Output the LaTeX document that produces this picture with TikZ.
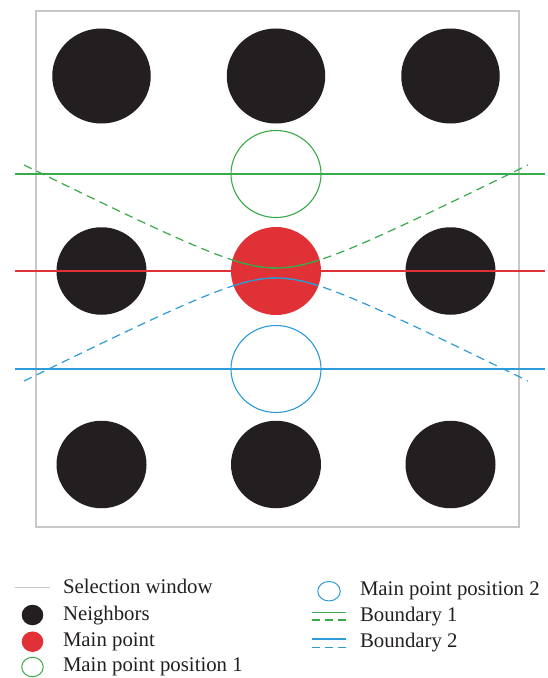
\documentclass[tikz,border=0pt]{standalone}
\usepackage{fontspec}
\setmainfont{Liberation Serif}
\usetikzlibrary{shapes.geometric}
\definecolor{nblack}{RGB}{35,31,32}
\definecolor{mred}{RGB}{224,50,54}
\definecolor{bgreen}{RGB}{57,170,73}
\definecolor{bblue}{RGB}{44,155,215}
\definecolor{wgray}{RGB}{200,200,200}
\begin{document}
\begin{tikzpicture}[x=1bp,y=-1bp,
  disc/.style={ellipse, draw=none, inner sep=0pt, outer sep=0pt},
  bigneighbor/.style={disc, fill=nblack, minimum width=98.5bp, minimum height=95bp},
  neighbor/.style={disc, fill=nblack, minimum width=90bp, minimum height=87.5bp},
  mainpt/.style={disc, fill=mred, minimum width=90bp, minimum height=88bp},
  posone/.style={disc, draw=bgreen, line width=1.1bp, minimum width=90bp, minimum height=87bp},
  postwo/.style={disc, draw=bblue, line width=1.1bp, minimum width=90bp, minimum height=87bp},
  gline/.style={bgreen, line width=1.2bp},
  bline/.style={bblue, line width=1.2bp},
  rline/.style={mred, line width=1.2bp},
  gdash/.style={bgreen, line width=1.2bp, dash pattern=on 8.5bp off 5.5bp},
  bdash/.style={bblue, line width=1.2bp, dash pattern=on 8.5bp off 5.5bp},
  ldash/.style={line width=1.2bp, dash pattern=on 8bp off 5bp},
  lbl/.style={anchor=base west, inner sep=0pt, outer sep=0pt, text=nblack, font=\fontsize{20.8bp}{24bp}\selectfont},
  lneighbor/.style={disc, fill=nblack, minimum width=21.6bp, minimum height=20.5bp},
  lred/.style={disc, fill=mred, minimum width=21.6bp, minimum height=20.5bp},
  lposone/.style={disc, draw=bgreen, line width=1bp, minimum width=21.5bp, minimum height=19.5bp},
  lpostwo/.style={disc, draw=bblue, line width=1bp, minimum width=22.5bp, minimum height=19.5bp}
]
\useasboundingbox (0,0) rectangle (548,678);

% selection window
\node[draw=wgray, line width=1.2bp, minimum width=483bp, minimum height=516bp, inner sep=0pt] (win) at (277.5,269) {};

% neighbors
\node[bigneighbor] (n11) at (101.5,76) {};
\node[bigneighbor] (n12) at (276,76) {};
\node[bigneighbor] (n13) at (450.5,76) {};
\node[neighbor] (n21) at (101.5,271) {};
\node[neighbor] (n23) at (450.5,271) {};
\node[neighbor] (n31) at (101.5,464.5) {};
\node[neighbor] (n32) at (276,464.5) {};
\node[neighbor] (n33) at (450.5,464.5) {};

% main point and positions
\node[mainpt] (mp) at (276,271) {};
\node[posone] (p1) at (276,174) {};
\node[postwo] (p2) at (276,369) {};

% boundary lines
\coordinate (g1) at (15,174); \coordinate (g2) at (545,174);
\coordinate (r1) at (15,271); \coordinate (r2) at (545,271);
\coordinate (b1) at (15,369); \coordinate (b2) at (545,369);
\draw[gline] (g1) -- (g2);
\draw[rline] (r1) -- (r2);
\draw[bline] (b1) -- (b2);

% hyperbolic boundaries
\draw[gdash] plot[domain=-252:252, samples=121] ({276+\x},{268-0.5*(100*veclen(\x/100,0.51)-51)});
\draw[bdash] plot[domain=-252:252, samples=121] ({276+\x},{278+0.5*(100*veclen(\x/100,0.51)-51)});
\draw[gline] plot[domain=-43.5:43.5, samples=41] ({276+\x},{268-0.5*(100*veclen(\x/100,0.51)-51)});
\draw[bline] plot[domain=-42.3:42.3, samples=41] ({276+\x},{278+0.5*(100*veclen(\x/100,0.51)-51)});

% legend
\coordinate (lw1) at (15,587.3); \coordinate (lw2) at (50,587.3);
\draw[wgray, line width=1.2bp] (lw1) -- (lw2);
\node[lbl] (t1) at (63,593.3) {Selection window};
\node[lneighbor] (l2) at (32.5,615) {};
\node[lbl] (t2) at (63,620) {Neighbors};
\node[lred] (l3) at (32.5,641.7) {};
\node[lbl] (t3) at (63,646.7) {Main point};
\node[lposone] (l4) at (32.5,667) {};
\node[lbl] (t4) at (63,671.7) {Main point position 1};

\node[lpostwo] (l5) at (329,591.2) {};
\node[lbl] (t5) at (360,595) {Main point position 2};
\coordinate (lb1a) at (312,612.3); \coordinate (lb1b) at (346,612.3);
\coordinate (lb1c) at (312,620); \coordinate (lb1d) at (346,620);
\draw[bgreen, line width=1.2bp] (lb1a) -- (lb1b);
\draw[bgreen, ldash] (lb1c) -- (lb1d);
\node[lbl] (t6) at (360,621.7) {Boundary 1};
\coordinate (lb2a) at (312,639); \coordinate (lb2b) at (346,639);
\coordinate (lb2c) at (312,647.3); \coordinate (lb2d) at (346,647.3);
\draw[bblue, line width=1.2bp] (lb2a) -- (lb2b);
\draw[bblue, ldash] (lb2c) -- (lb2d);
\node[lbl] (t7) at (360,647.3) {Boundary 2};
\end{tikzpicture}
\end{document}
